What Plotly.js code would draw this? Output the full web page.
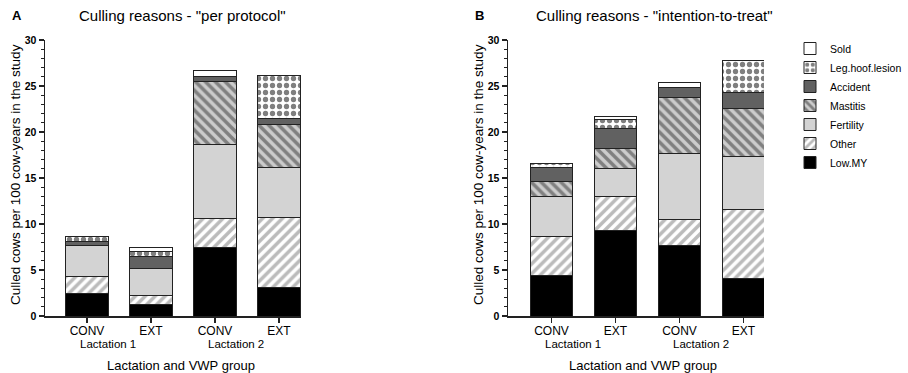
<!DOCTYPE html>
<html>
<head>
<meta charset="utf-8">
<script src="https://cdn.plot.ly/plotly-3.0.1.min.js"></script>
<style>html,body{margin:0;padding:0;background:#fff;}#chart{width:908px;height:373px;}</style>
</head>
<body>
<div id="chart"></div>
<script>
// ---- data ----
const categories = ["L1 CONV", "L1 EXT", "L2 CONV", "L2 EXT"];
const tickLabels = ["CONV", "EXT", "CONV", "EXT"];
const lactationLabels = ["Lactation 1", "Lactation 2"];
const reasons = ["Low.MY", "Other", "Fertility", "Mastitis", "Accident", "Leg.hoof.lesion", "Sold"];

// Panel A: per protocol (culled cows per 100 cow-years)
const ppLowMY     = [2.4, 1.3, 7.45, 3.05];
const ppOther     = [1.9, 0.9, 3.1, 7.65];
const ppFertility = [3.35, 3.0, 8.05, 5.4];
const ppMastitis  = [0, 0, 6.85, 4.7];
const ppAccident  = [0.5, 1.3, 0.6, 0.7];
const ppLegHoof   = [0.5, 0.5, 0, 4.65];
const ppSold      = [0, 0.45, 0.65, 0];

// Panel B: intention-to-treat
const ittLowMY     = [4.35, 9.33, 7.7, 4.05];
const ittOther     = [4.3, 3.7, 2.8, 7.55];
const ittFertility = [4.35, 3.0, 7.15, 5.7];
const ittMastitis  = [1.6, 2.17, 6.1, 5.25];
const ittAccident  = [1.55, 2.2, 1.1, 1.75];
const ittLegHoof   = [0.45, 0.95, 0, 3.5];
const ittSold      = [0, 0.3, 0.55, 0];

// ---- styles ----
const styles = {
  "Low.MY":          {color: "#000000"},
  "Other":           {color: "#ffffff", pattern: {shape: "/", fgcolor: "#777777", bgcolor: "#ffffff", size: 7, solidity: 0.5, fillmode: "overlay"}},
  "Fertility":       {color: "#d3d3d3"},
  "Mastitis":        {color: "#cccccc", pattern: {shape: "\\", fgcolor: "#333333", bgcolor: "#cccccc", size: 7, solidity: 0.5, fillmode: "overlay"}},
  "Accident":        {color: "#616161"},
  "Leg.hoof.lesion": {color: "#ffffff", pattern: {shape: ".", fgcolor: "#000000", bgcolor: "#ffffff", size: 7, solidity: 0.45, fillmode: "overlay"}},
  "Sold":            {color: "#ffffff"}
};

const ppData  = [ppLowMY, ppOther, ppFertility, ppMastitis, ppAccident, ppLegHoof, ppSold];
const ittData = [ittLowMY, ittOther, ittFertility, ittMastitis, ittAccident, ittLegHoof, ittSold];

function makeTraces(dataSets, xa, ya, showLegend) {
  return reasons.map((r, i) => {
    const st = styles[r];
    const marker = {color: st.color, line: {color: "#222222", width: 1}};
    if (st.pattern) marker.pattern = st.pattern;
    return {
      type: "bar", name: r, x: categories, y: dataSets[i],
      xaxis: xa, yaxis: ya, marker: marker, width: 0.67,
      showlegend: showLegend, legendgroup: r, hoverinfo: "skip"
    };
  });
}

const traces = makeTraces(ppData, "x", "y", true).concat(makeTraces(ittData, "x2", "y2", false));

const W = 908, H = 373;
const yBot = 316, yTop = 40;
const yDomain = [(H - yBot) / H, (H - yTop) / H];
const font = {family: "Liberation Sans, Arial, sans-serif", color: "#000"};

function xAxis(domain, range, anchor) {
  return {
    domain: domain, anchor: anchor, type: "category", categoryarray: categories,
    range: range, tickvals: categories, ticktext: tickLabels,
    showline: true, linecolor: "#222", linewidth: 1.5,
    ticks: "outside", ticklen: 5, tickwidth: 1.3, tickcolor: "#222",
    tickfont: {family: font.family, size: 12, color: "#000"}, ticklabelstandoff: -2,
    showgrid: false, zeroline: false, fixedrange: true
  };
}
function yAxis(anchor) {
  return {
    domain: yDomain, anchor: anchor, range: [0, 30], dtick: 5, tick0: 0,
    showline: true, linecolor: "#222", linewidth: 1.5,
    ticks: "outside", ticklen: 5, tickwidth: 1.3, tickcolor: "#222",
    minor: {dtick: 1, ticks: "outside", ticklen: 3, tickwidth: 1, tickcolor: "#222", showgrid: false},
    tickfont: {family: font.family, size: 10.5, color: "#000", weight: "bold"},
    showgrid: false, zeroline: false, fixedrange: true
  };
}

const annotations = [];
function panelText(letter, title, cx, axisName, lx) {
  annotations.push({xref: "paper", yref: "paper", x: lx / W, y: (H - 15) / H, text: "<b>" + letter + "</b>", showarrow: false,
    font: {family: font.family, size: 13, color: "#000"}, xanchor: "center", yanchor: "middle"});
  annotations.push({xref: "paper", yref: "paper", x: cx / W, y: (H - 15) / H, text: title, showarrow: false,
    font: {family: font.family, size: 15, color: "#000"}, xanchor: "center", yanchor: "middle"});
  lactationLabels.forEach((t, k) => {
    annotations.push({xref: axisName, yref: "paper", x: 0.33 + 2 * k, y: (H - 344) / H, text: t, showarrow: false,
      font: {family: font.family, size: 11.5, color: "#000"}, xanchor: "center", yanchor: "middle"});
  });
}
panelText("A", "Culling reasons - \"per protocol\"", 182, "x", 17);
panelText("B", "Culling reasons - \"intention-to-treat\"", 654, "x2", 479);

// axis titles
annotations.push({xref: "paper", yref: "paper", x: 181 / W, y: (H - 365) / H, text: "Lactation and VWP group", showarrow: false,
  font: {family: font.family, size: 13, color: "#000"}, xanchor: "center", yanchor: "middle"});
annotations.push({xref: "paper", yref: "paper", x: 643 / W, y: (H - 365) / H, text: "Lactation and VWP group", showarrow: false,
  font: {family: font.family, size: 13, color: "#000"}, xanchor: "center", yanchor: "middle"});
annotations.push({xref: "paper", yref: "paper", x: 15 / W, y: (H - 175) / H, text: "Culled cows per 100 cow-years in the study", showarrow: false,
  textangle: -90, font: {family: font.family, size: 13.5, color: "#000"}, xanchor: "center", yanchor: "middle"});
annotations.push({xref: "paper", yref: "paper", x: 478 / W, y: (H - 175) / H, text: "Culled cows per 100 cow-years in the study", showarrow: false,
  textangle: -90, font: {family: font.family, size: 13.5, color: "#000"}, xanchor: "center", yanchor: "middle"});

const layout = {
  width: W, height: H, margin: {l: 0, r: 0, t: 0, b: 0},
  paper_bgcolor: "#fff", plot_bgcolor: "#fff",
  barmode: "stack", bargap: 0.33,
  font: font,
  xaxis: xAxis([45 / W, 301 / W], [-0.656, 3.344], "y"),
  yaxis: yAxis("x"),
  xaxis2: xAxis([508 / W, 764 / W], [-0.68, 3.32], "y2"),
  yaxis2: yAxis("x2"),
  legend: {x: 790 / W, y: (H - 34) / H, xanchor: "left", yanchor: "top", traceorder: "reversed",
    font: {family: font.family, size: 10.5, color: "#000"}, bgcolor: "rgba(0,0,0,0)", itemwidth: 30, tracegroupgap: 0},
  annotations: annotations
};

Plotly.newPlot("chart", traces, layout, {displayModeBar: false, staticPlot: true});
</script>
</body>
</html>
